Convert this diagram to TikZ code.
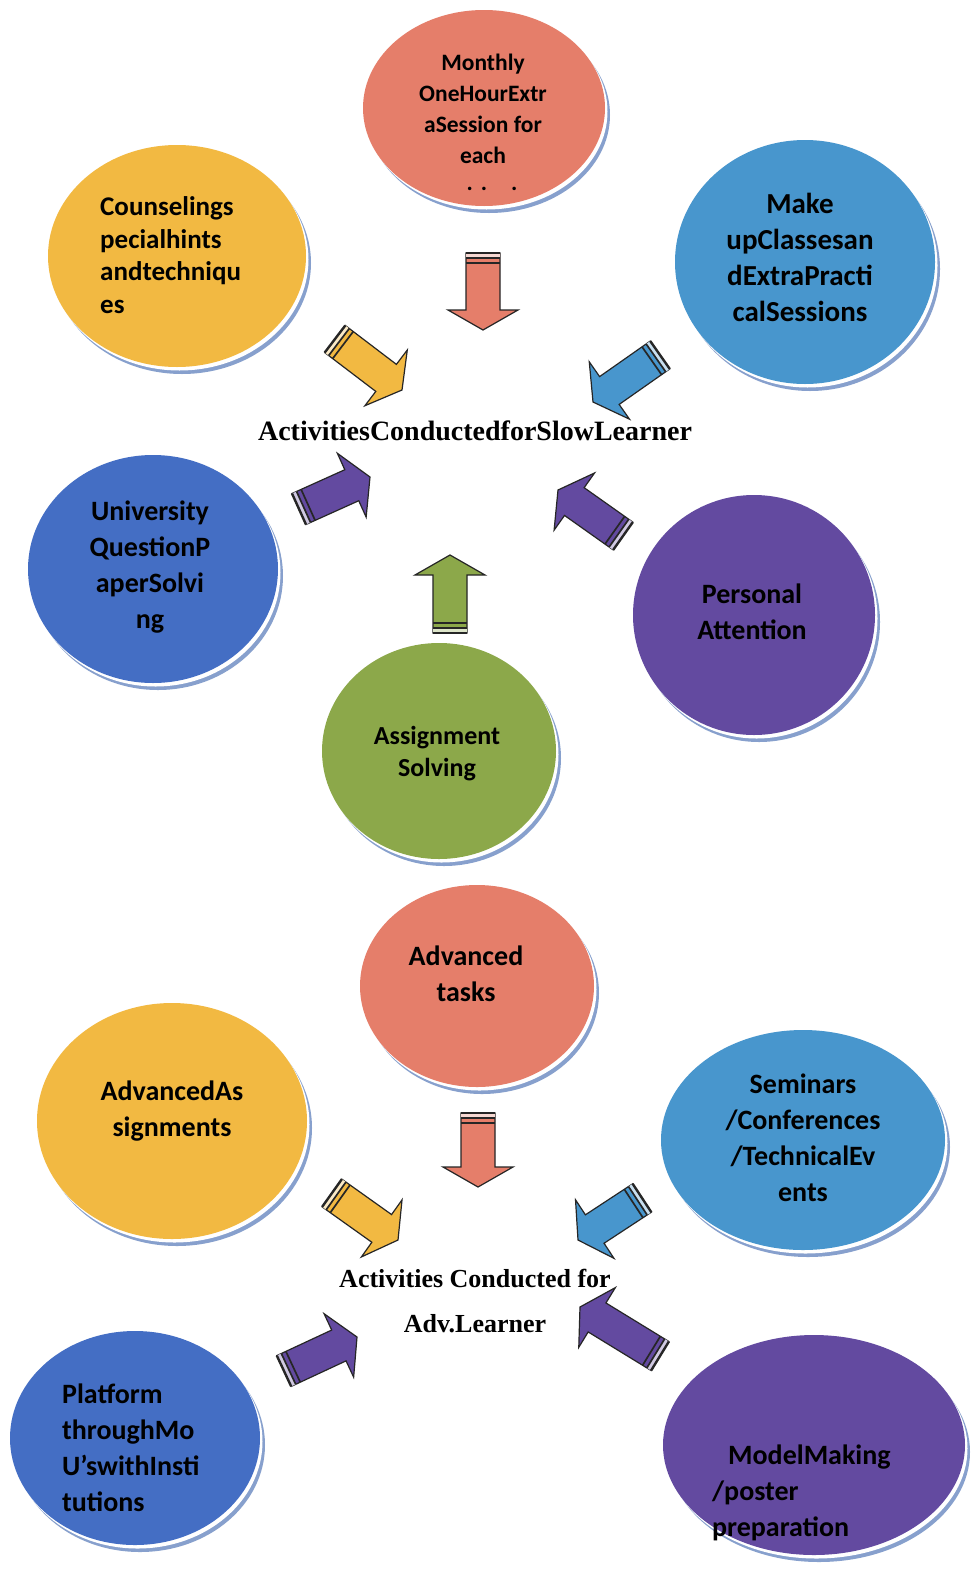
\documentclass[tikz,border=0pt]{standalone}
\usepackage{fontspec}
\setmainfont{Liberation Serif}
\newfontfamily\calibri{Carlito}
\usetikzlibrary{calc,shapes.geometric,shadows}
\definecolor{salmon}{RGB}{229,126,106}
\definecolor{sunny}{RGB}{242,185,66}
\definecolor{skyblue}{RGB}{72,150,205}
\definecolor{royal}{RGB}{68,110,196}
\definecolor{violet}{RGB}{99,74,160}
\definecolor{olive}{RGB}{140,168,74}
\definecolor{shadowblue}{RGB}{135,160,205}
\tikzset{
  bubble/.style={ellipse, inner sep=0pt, draw=none,
    drop shadow={shadow xshift=5pt, shadow yshift=-7pt, fill=shadowblue, opacity=1},
    drop shadow={shadow xshift=2.5pt, shadow yshift=-3.5pt, fill=white, opacity=1}},
  bubbletext/.style={font=\calibri\bfseries\fontsize{28}{36}\selectfont, align=center, inner sep=0pt},
  title/.style={font=\bfseries\fontsize{28}{34}\selectfont, inner sep=0pt},
  arrowbody/.style={draw=black!85, line width=1.2pt, line join=miter},
  stripe/.style={draw=black!85, line width=1.7pt}
}
\newcommand{\blockarrow}[3]{%
  \coordinate (neck) at ($(#3)!20pt!(#2)$);
  \coordinate (band1) at ($(#2)!5pt!(#3)$);
  \coordinate (band2) at ($(#2)!10pt!(#3)$);
  \filldraw[arrowbody, fill=#1] ($(#2)!17pt!90:(#3)$) -- ($(neck)!17pt!90:(#3)$) -- ($(neck)!35pt!90:(#3)$) -- (#3)
    -- ($(neck)!35pt!-90:(#3)$) -- ($(neck)!17pt!-90:(#3)$) -- ($(#2)!17pt!-90:(#3)$) -- cycle;
  \fill[#1!30!white] ($(#2)!17pt!90:(#3)$) -- ($(band1)!17pt!90:(#3)$) -- ($(band1)!17pt!-90:(#3)$) -- ($(#2)!17pt!-90:(#3)$) -- cycle;
  \draw[stripe, line width=2.4pt] ($(#2)!17pt!90:(#3)$) -- ($(#2)!17pt!-90:(#3)$);
  \draw[stripe] ($(band1)!17pt!90:(#3)$) -- ($(band1)!17pt!-90:(#3)$);
  \draw[stripe] ($(band2)!17pt!90:(#3)$) -- ($(band2)!17pt!-90:(#3)$);
}
\begin{document}
\begin{tikzpicture}[x=1pt, y=-1pt]
\fill[white] (0,0) rectangle (977,1574);
\useasboundingbox (0,0) rectangle (977,1574);

% slow learner bubbles
\node[bubble, fill=salmon, minimum width=242pt, minimum height=196pt] (monthly) at (484,108) {};
\node[bubble, fill=sunny, minimum width=258pt, minimum height=222pt] (counsel) at (177,256) {};
\node[bubble, fill=skyblue, minimum width=260pt, minimum height=244pt] (makeup) at (805,262) {};
\node[bubble, fill=royal, minimum width=250pt, minimum height=228pt] (univ) at (153,569) {};
\node[bubble, fill=violet, minimum width=242pt, minimum height=240pt] (personal) at (754,615) {};
\node[bubble, fill=olive, minimum width=234pt, minimum height=216pt] (assign) at (439,751) {};

% advanced learner bubbles
\node[bubble, fill=salmon, minimum width=234pt, minimum height=202pt] (advtask) at (477,986) {};
\node[bubble, fill=sunny, minimum width=270pt, minimum height=236pt] (advassign) at (172,1121) {};
\node[bubble, fill=skyblue, minimum width=284pt, minimum height=220pt] (seminar) at (803,1140) {};
\node[bubble, fill=royal, minimum width=250pt, minimum height=214pt] (platform) at (135,1438) {};
\node[bubble, fill=violet, minimum width=302pt, minimum height=220pt] (model) at (814,1445) {};

% texts
\node[bubbletext, font=\calibri\bfseries\fontsize{23.5}{31}\selectfont] (monthlytext) at (483,109) {Monthly\\OneHourExtr\\aSession for\\each};
\node[bubbletext, font=\calibri\bfseries\fontsize{23.5}{31}\selectfont, anchor=base] (monthlydots) at (492,190) {.\,\,.\hspace{24pt}.};
\node[bubbletext, align=left, anchor=west, font=\calibri\bfseries\fontsize{27}{32.5}\selectfont] (counseltext) at (100,255) {Counselings\\pecialhints\\andtechniqu\\es};
\node[bubbletext, font=\calibri\bfseries\fontsize{29}{36}\selectfont] (makeuptext) at (800,257) {Make\\upClassesan\\dExtraPracti\\calSessions};
\node[bubbletext] (univtext) at (150,567) {University\\QuestionP\\aperSolvi\\ng};
\node[bubbletext] (personaltext) at (752,612) {Personal\\Attention};
\node[bubbletext, font=\calibri\bfseries\fontsize{26}{32}\selectfont] (assigntext) at (437,754) {Assignment\\Solving};
\node[bubbletext] (advtasktext) at (466,974) {Advanced\\tasks};
\node[bubbletext] (advassigntext) at (172,1111) {AdvancedAs\\signments};
\node[bubbletext] (seminartext) at (803,1138) {Seminars\\/Conferences\\/TechnicalEv\\ents};
\node[bubbletext, align=left, anchor=west] (platformtext) at (62,1448) {Platform\\throughMo\\U’swithInsti\\tutions};
\node[bubbletext, align=left, anchor=west] (modeltext) at (712,1493) {\hspace{16pt}ModelMaking\\/poster\\preparation};

\node[title] (slowtitle) at (475,431) {ActivitiesConductedforSlowLearner};
\node[title, font=\bfseries\fontsize{26}{45}\selectfont, align=center] (advtitle) at (475,1301) {Activities Conducted for\\Adv.Learner};

% arrow ends
\coordinate (monthlyT) at (483,253);  \coordinate (monthlyP) at (483,330);
\coordinate (counselT) at (335,339);  \coordinate (counselP) at (402,390);
\coordinate (makeupT) at (660,355);   \coordinate (makeupP) at (593,402);
\coordinate (univT) at (299,509);     \coordinate (univP) at (370,477);
\coordinate (personalT) at (623,536); \coordinate (personalP) at (558,490);
\coordinate (assignT) at (450,633);   \coordinate (assignP) at (450,555);
\coordinate (advtaskT) at (478,1113);  \coordinate (advtaskP) at (478,1187);
\coordinate (advassignT) at (332,1193); \coordinate (advassignP) at (398,1240);
\coordinate (seminarT) at (642,1198); \coordinate (seminarP) at (578,1240);
\coordinate (platformT) at (284,1371); \coordinate (platformP) at (357,1337);
\coordinate (modelT) at (660,1356);   \coordinate (modelP) at (580,1307);

\blockarrow{salmon}{monthlyT}{monthlyP}
\blockarrow{sunny}{counselT}{counselP}
\blockarrow{skyblue}{makeupT}{makeupP}
\blockarrow{violet}{univT}{univP}
\blockarrow{violet}{personalT}{personalP}
\blockarrow{olive}{assignT}{assignP}
\blockarrow{salmon}{advtaskT}{advtaskP}
\blockarrow{sunny}{advassignT}{advassignP}
\blockarrow{skyblue}{seminarT}{seminarP}
\blockarrow{violet}{platformT}{platformP}
\blockarrow{violet}{modelT}{modelP}
\end{tikzpicture}
\end{document}
